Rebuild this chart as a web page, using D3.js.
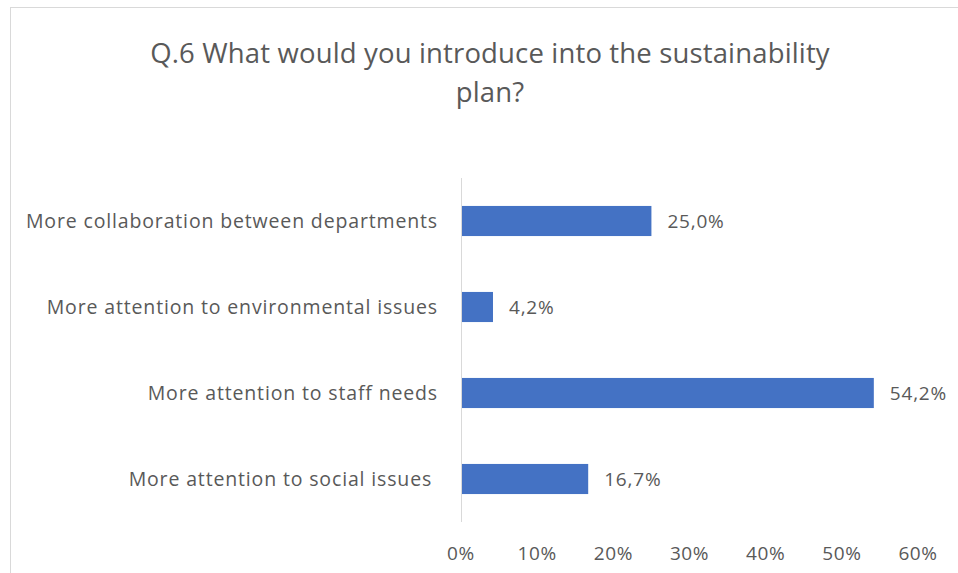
<!DOCTYPE html>
<html>
<head>
<meta charset="utf-8">
<script src="https://cdn.jsdelivr.net/npm/d3@7"></script>
<style>
  body { margin: 0; background: #fff; }
  text { font-family: "Open Sans", sans-serif; fill: #595959; }
</style>
</head>
<body>
<div id="chart"></div>
<script>
const width = 958;
const height = 573;

const categories = [
    "More collaboration between departments",
    "More attention to environmental issues",
    "More attention to staff needs",
    "More attention to social issues "
];
const values = [25.0, 4.2, 54.2, 16.7];
const tickValues = [0, 10, 20, 30, 40, 50, 60];
const titleLines = ["Q.6 What would you introduce into the sustainability", "plan?"];

const margin = { top: 178, left: 461 };

const svg = d3.select("#chart")
    .append("svg")
    .attr("width", width)
    .attr("height", height);

// chart frame
svg.append("rect")
    .attr("x", 10.5)
    .attr("y", 7.5)
    .attr("width", width + 20)
    .attr("height", height + 20)
    .attr("fill", "#fff")
    .attr("stroke", "#d9d9d9");

const x = d3.scaleLinear()
    .domain([0, 60])
    .range([margin.left, margin.left + 457]);

const y = d3.scaleBand()
    .domain(categories)
    .range([margin.top, margin.top + 344])
    .paddingInner(0.65)
    .paddingOuter(0.325);

// title
svg.append("g")
    .selectAll("text")
    .data(titleLines)
    .join("text")
    .attr("x", 490)
    .attr("y", (d, i) => 63 + i * 39)
    .attr("text-anchor", "middle")
    .style("font-size", "27.5px")
    .style("letter-spacing", "0.15px")
    .text(d => d);

// bars
svg.append("g")
    .selectAll("rect")
    .data(values)
    .join("rect")
    .attr("x", x(0))
    .attr("y", (d, i) => y(categories[i]))
    .attr("width", d => x(d) - x(0))
    .attr("height", y.bandwidth())
    .attr("fill", "#4472c4");

// vertical axis line
svg.append("line")
    .attr("x1", x(0) + 0.5)
    .attr("x2", x(0) + 0.5)
    .attr("y1", margin.top)
    .attr("y2", margin.top + 344)
    .attr("stroke", "#d9d9d9")
    .attr("stroke-width", 1);

// category labels
svg.append("g")
    .selectAll("text")
    .data(categories)
    .join("text")
    .attr("x", x(0) - 23)
    .attr("y", d => y(d) + y.bandwidth() / 2 + 6.5)
    .attr("text-anchor", "end")
    .attr("xml:space", "preserve")
    .style("white-space", "pre")
    .style("font-size", "19.5px")
    .style("letter-spacing", "0.85px")
    .text(d => d);

// value labels
const fmt = d => d.toFixed(1).replace(".", ",") + "%";
svg.append("g")
    .selectAll("text")
    .data(values)
    .join("text")
    .attr("x", d => x(d) + 16)
    .attr("y", (d, i) => y(categories[i]) + y.bandwidth() / 2 + 6.5)
    .style("font-size", "19px")
    .style("letter-spacing", "0.8px")
    .text(fmt);

// x tick labels
svg.append("g")
    .selectAll("text")
    .data(tickValues)
    .join("text")
    .attr("x", d => x(d))
    .attr("y", 560)
    .attr("text-anchor", "middle")
    .style("font-size", "19px")
    .style("letter-spacing", "0.6px")
    .text(d => d + "%");
</script>
</body>
</html>
